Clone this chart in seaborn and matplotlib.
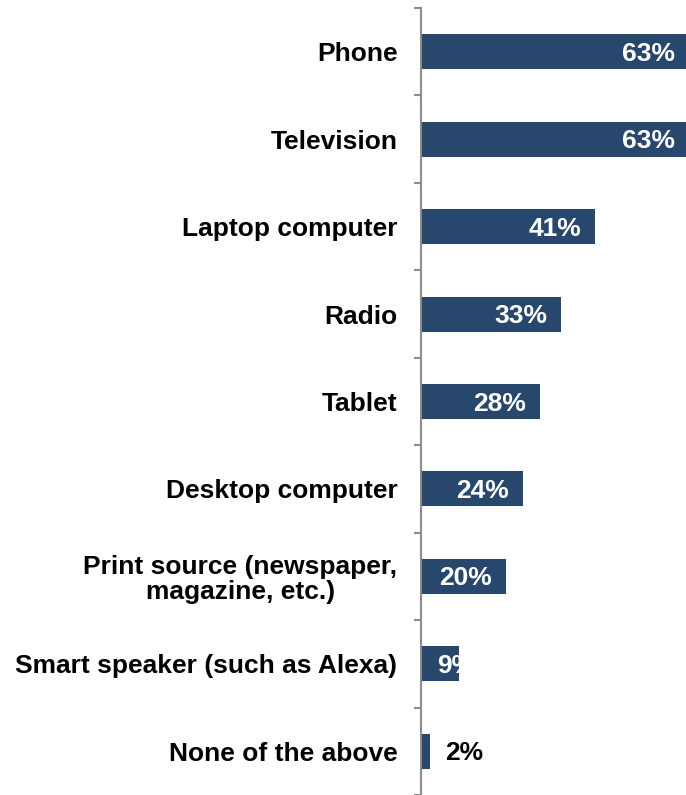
import matplotlib
matplotlib.use("Agg")
import matplotlib.pyplot as plt
from matplotlib import font_manager
import seaborn as sns
import pandas as pd

categories = [
    "Phone",
    "Television",
    "Laptop computer",
    "Radio",
    "Tablet",
    "Desktop computer",
    "Print source (newspaper,\nmagazine, etc.)",
    "Smart speaker (such as Alexa)",
    "None of the above",
]
values = [63, 63, 41, 33, 28, 24, 20, 9, 2]

BAR_COLOR = "#28476C"
AXIS_COLOR = "#8C8C8C"
FONT_SIZE = 19

sns.set_theme(style="white")
plt.rcParams["font.family"] = ["Liberation Sans", "DejaVu Sans"]

# regular-width bold Liberation Sans
bold_path = None
for f in font_manager.fontManager.ttflist:
    if f.fname.split("/")[-1] == "LiberationSans-Bold.ttf":
        bold_path = f.fname
        break
if bold_path:
    fp = font_manager.FontProperties(fname=bold_path, size=FONT_SIZE)
else:
    fp = font_manager.FontProperties(family="DejaVu Sans", weight="bold",
                                     size=FONT_SIZE)

df = pd.DataFrame({"device": categories, "share": values})

fig = plt.figure(figsize=(6.86, 7.95), dpi=100)
ax = fig.add_axes([421 / 686, 0.0, 1 - 421 / 686, 1 - 8 / 795])

sns.barplot(data=df, y="device", x="share", orient="h", color=BAR_COLOR,
            saturation=1, width=0.4, ax=ax, edgecolor="none")

ax.set_xlim(0, 62.35)
ax.set_ylim(len(categories) - 0.5, -0.5)
ax.set_xlabel("")
ax.set_ylabel("")
ax.set_xticks([])

# minor ticks on the category boundaries, no major tick marks
ax.set_yticks([i + 0.5 for i in range(-1, len(categories))], minor=True)
ax.tick_params(axis="y", which="major", length=0, pad=17, labelcolor="black")
ax.tick_params(axis="y", which="minor", length=5, width=1.5, color=AXIS_COLOR,
               left=True)
for lbl in ax.get_yticklabels():
    lbl.set_fontproperties(fp)
    lbl.set_multialignment("center")
    lbl.set_linespacing(1.05)

for side in ["top", "right", "bottom"]:
    ax.spines[side].set_visible(False)
ax.spines["left"].set_color(AXIS_COLOR)
ax.spines["left"].set_linewidth(1.5)

for i, v in enumerate(values):
    txt = f"{v}%"
    if v >= 15:
        ax.annotate(txt, (v, i), xytext=(-14, -2), textcoords="offset pixels",
                    ha="right", va="center", color="white",
                    fontproperties=fp, annotation_clip=False)
    elif v >= 5:
        ax.annotate(txt, (0, i), xytext=(16, -2), textcoords="offset pixels",
                    ha="left", va="center", color="white", fontproperties=fp)
    else:
        ax.annotate(txt, (v, i), xytext=(16, -2), textcoords="offset pixels",
                    ha="left", va="center", color="black", fontproperties=fp)

fig.savefig("out.png", dpi=100)
